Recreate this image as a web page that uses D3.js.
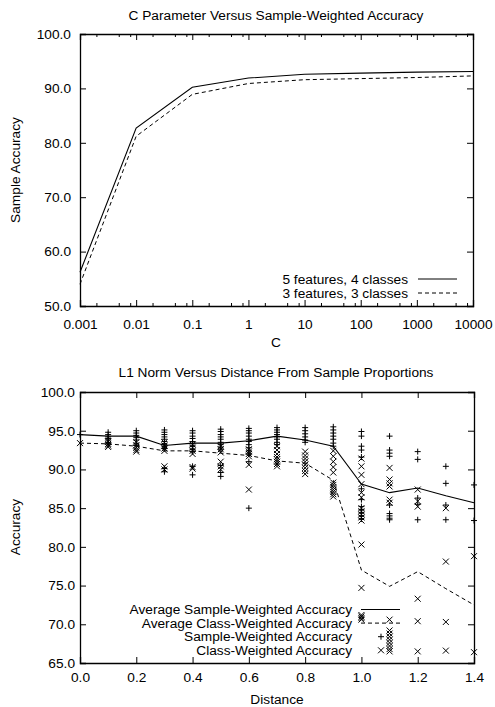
<!DOCTYPE html>
<html>
<head>
<meta charset="utf-8">
<script src="https://cdn.jsdelivr.net/npm/d3@7"></script>
<style>
  body { margin: 0; background: #fff; }
  svg { display: block; font-family: "Liberation Sans", Arial, sans-serif; font-size: 13.7px; }
  .axis path, .axis line { stroke: #000; }
  .axis text { fill: #000; font-size: 13.7px; font-family: "Liberation Sans", Arial, sans-serif; }
</style>
</head>
<body>
<svg id="chart" width="495" height="707"></svg>
<script>
// top chart: C parameter vs sample-weighted accuracy
var cValues = [0.001, 0.01, 0.1, 1, 10, 100, 1000, 10000];
var acc5f4c = [56.2, 82.7, 90.2, 91.9, 92.6, 92.8, 93.0, 93.1];
var acc3f3c = [54.0, 81.2, 88.9, 90.9, 91.6, 91.8, 92.0, 92.3];
var cTickLabels = ["0.001", "0.01", "0.1", "1", "10", "100", "1000", "10000"];
var topYTicks = [50, 60, 70, 80, 90, 100];

// bottom chart: L1 norm vs distance
var distances = [0.0, 0.1, 0.2, 0.3, 0.4, 0.5, 0.6, 0.7, 0.8, 0.9, 1.0, 1.1, 1.2, 1.3, 1.4];
var avgSample = [94.5, 94.3, 94.3, 93.1, 93.4, 93.4, 93.7, 94.3, 93.8, 93.0, 88.1, 87.0, 87.6, 86.6, 85.7];
var avgClass = [93.4, 93.3, 93.0, 92.4, 92.4, 92.1, 91.8, 91.1, 90.8, 88.6, 77.0, 74.9, 76.8, 74.6, 72.5];
var sampleAcc = [
  [94.5],
  [94.8, 94.5, 94.2, 94.0, 93.8, 93.5, 93.3],
  [95.0, 94.7, 94.4, 94.1, 93.8, 93.4, 93.1],
  [95.1, 94.8, 94.5, 94.2, 93.9, 93.6, 93.3, 93.0, 92.7, 90.1, 89.7],
  [95.0, 94.7, 94.3, 94.0, 93.6, 93.3, 93.0, 92.6, 92.3, 90.4, 89.3],
  [95.2, 94.9, 94.5, 94.2, 93.9, 93.5, 93.2, 92.9, 92.6, 90.5, 89.6, 89.1],
  [95.3, 95.0, 94.7, 94.3, 93.9, 93.6, 93.2, 92.8, 92.4, 92.0, 91.0, 85.0],
  [95.4, 95.1, 94.8, 94.5, 94.2, 93.9, 93.5, 93.2],
  [95.4, 95.0, 94.6, 94.2, 93.8, 93.5],
  [95.5, 95.1, 94.7, 94.3, 93.9, 93.4, 93.0],
  [94.9, 94.3, 93.0, 92.5, 91.6, 87.5, 86.1, 85.2, 84.8, 84.4, 84.0, 83.6],
  [94.3, 92.5, 92.1, 91.7, 85.4, 84.3, 84.0, 83.7, 83.5],
  [92.3, 91.3, 86.3, 85.5, 83.5],
  [90.4, 88.2, 85.4, 83.5],
  [88.0, 83.4]
];
var classAcc = [
  [93.4],
  [93.6, 93.3, 93.1, 92.9],
  [93.5, 93.1, 92.8, 92.5, 92.3],
  [93.5, 93.1, 92.7, 92.4, 90.4, 90.0],
  [93.2, 92.8, 92.4, 92.0, 90.3, 90.1],
  [93.0, 92.6, 92.2, 91.0, 90.4, 90.0],
  [92.6, 92.3, 92.0, 91.7, 90.6, 87.4],
  [93.0, 92.5, 92.0, 91.6, 91.3, 91.0, 90.7, 90.4],
  [92.3, 91.8, 91.4, 91.0, 90.6, 90.2, 89.8, 89.4],
  [92.4, 91.7, 91.0, 90.3, 89.6, 88.3, 88.0, 87.7, 87.4, 87.1, 86.8, 86.5],
  [91.4, 90.4, 89.3, 88.1, 87.0, 86.4, 85.0, 84.6, 84.2, 83.8, 83.4, 80.3, 74.7, 71.2, 71.0, 70.8, 70.6],
  [90.2, 88.7, 88.2, 87.8, 86.1, 85.7, 70.6, 69.2, 68.8, 68.4, 68.0, 67.6, 67.2, 66.8, 66.5],
  [87.4, 85.9, 85.2, 73.3, 70.4, 66.5],
  [85.0, 78.1, 70.3, 66.6],
  [78.8, 66.4]
];
var botXTicks = [0.0, 0.2, 0.4, 0.6, 0.8, 1.0, 1.2, 1.4];
var botYTicks = [65, 70, 75, 80, 85, 90, 95, 100];

var svg = d3.select("#chart");
svg.append("rect").attr("width", 495).attr("height", 707).attr("fill", "#fff");

var dash = "4,3";
var markSize = 3;

// ---------- top chart ----------
var xTop = d3.scaleLog().domain([0.001, 10000]).range([80, 473]);
var yTop = d3.scaleLinear().domain([50, 100]).range([306, 34]);

var minorC = [];
cValues.slice(0, -1).forEach(function (c) {
    [2, 5, 8].forEach(function (m) { minorC.push(c * m); });
});

var gTop = svg.append("g");

// minor ticks (bottom and top)
gTop.selectAll(".minorB").data(minorC).enter().append("line")
    .attr("x1", function (d) { return xTop(d); }).attr("x2", function (d) { return xTop(d); })
    .attr("y1", yTop(50)).attr("y2", yTop(50) - 3).attr("stroke", "#000");
gTop.selectAll(".minorT").data(minorC).enter().append("line")
    .attr("x1", function (d) { return xTop(d); }).attr("x2", function (d) { return xTop(d); })
    .attr("y1", yTop(100)).attr("y2", yTop(100) + 3).attr("stroke", "#000");

gTop.append("g").attr("class", "axis")
    .attr("transform", "translate(0," + yTop(50) + ")")
    .call(d3.axisBottom(xTop).tickValues(cValues).tickSize(-6).tickPadding(13)
        .tickFormat(function (d, i) { return cTickLabels[i]; }));
gTop.append("g").attr("class", "axis")
    .attr("transform", "translate(0," + yTop(100) + ")")
    .call(d3.axisTop(xTop).tickValues(cValues).tickSize(-6).tickFormat(""));
gTop.append("g").attr("class", "axis")
    .attr("transform", "translate(" + xTop(0.001) + ",0)")
    .call(d3.axisLeft(yTop).tickValues(topYTicks).tickSize(-6).tickPadding(9)
        .tickFormat(d3.format(".1f")));
gTop.append("g").attr("class", "axis")
    .attr("transform", "translate(" + xTop(10000) + ",0)")
    .call(d3.axisRight(yTop).tickValues(topYTicks).tickSize(-6).tickFormat(""));
svg.selectAll(".axis .domain").attr("stroke-width", 1.3);

var lineTop = d3.line()
    .x(function (d) { return xTop(d[0]); })
    .y(function (d) { return yTop(d[1]); });

gTop.append("path").datum(d3.zip(cValues, acc5f4c))
    .attr("d", lineTop).attr("fill", "none").attr("stroke", "#000").attr("stroke-width", 1.1);
gTop.append("path").datum(d3.zip(cValues, acc3f3c))
    .attr("d", lineTop).attr("fill", "none").attr("stroke", "#000").attr("stroke-width", 1)
    .attr("stroke-dasharray", dash);

svg.append("text").attr("x", 276).attr("y", 15).attr("dy", "0.35em")
    .attr("text-anchor", "middle").text("C Parameter Versus Sample-Weighted Accuracy");
svg.append("text").attr("x", 276).attr("y", 342).attr("dy", "0.35em")
    .attr("text-anchor", "middle").text("C");
svg.append("text").attr("transform", "translate(15,170) rotate(-90)").attr("dy", "0.35em")
    .attr("text-anchor", "middle").text("Sample Accuracy");

var topLegend = [
    { label: "5 features, 4 classes", dash: null },
    { label: "3 features, 3 classes", dash: dash }
];
topLegend.forEach(function (d, i) {
    var y = 279 + i * 14;
    svg.append("text").attr("x", 408).attr("y", y).attr("dy", "0.35em")
        .attr("text-anchor", "end").text(d.label);
    svg.append("line").attr("x1", 418).attr("x2", 457).attr("y1", y).attr("y2", y)
        .attr("stroke", "#000").attr("stroke-dasharray", d.dash);
});

// ---------- bottom chart ----------
var xBot = d3.scaleLinear().domain([0, 1.4]).range([80, 474]);
var yBot = d3.scaleLinear().domain([65, 100]).range([663, 392]);

var gBot = svg.append("g");
gBot.append("g").attr("class", "axis")
    .attr("transform", "translate(0," + yBot(65) + ")")
    .call(d3.axisBottom(xBot).tickValues(botXTicks).tickSize(-6).tickPadding(9)
        .tickFormat(d3.format(".1f")));
gBot.append("g").attr("class", "axis")
    .attr("transform", "translate(0," + yBot(100) + ")")
    .call(d3.axisTop(xBot).tickValues(botXTicks).tickSize(-6).tickFormat(""));
gBot.append("g").attr("class", "axis")
    .attr("transform", "translate(" + xBot(0) + ",0)")
    .call(d3.axisLeft(yBot).tickValues(botYTicks).tickSize(-6).tickPadding(5)
        .tickFormat(d3.format(".1f")));
gBot.append("g").attr("class", "axis")
    .attr("transform", "translate(" + xBot(1.4) + ",0)")
    .call(d3.axisRight(yBot).tickValues(botYTicks).tickSize(-6).tickFormat(""));
svg.selectAll(".axis .domain").attr("stroke-width", 1.3);

function plusPath(x, y) {
    return "M" + (x - markSize) + "," + y + "H" + (x + markSize) +
        "M" + x + "," + (y - markSize) + "V" + (y + markSize);
}
function crossPath(x, y) {
    return "M" + (x - markSize) + "," + (y - markSize) + "L" + (x + markSize) + "," + (y + markSize) +
        "M" + (x - markSize) + "," + (y + markSize) + "L" + (x + markSize) + "," + (y - markSize);
}

var samplePts = [], classPts = [];
distances.forEach(function (d, i) {
    sampleAcc[i].forEach(function (v) { samplePts.push([d, v]); });
    classAcc[i].forEach(function (v) { classPts.push([d, v]); });
});

gBot.selectAll(".plus").data(samplePts).enter().append("path")
    .attr("d", function (d) { return plusPath(xBot(d[0]), yBot(d[1])); })
    .attr("stroke", "#000").attr("fill", "none");
gBot.selectAll(".cross").data(classPts).enter().append("path")
    .attr("d", function (d) { return crossPath(xBot(d[0]), yBot(d[1])); })
    .attr("stroke", "#000").attr("fill", "none");

var lineBot = d3.line()
    .x(function (d) { return xBot(d[0]); })
    .y(function (d) { return yBot(d[1]); });
gBot.append("path").datum(d3.zip(distances, avgSample))
    .attr("d", lineBot).attr("fill", "none").attr("stroke", "#000").attr("stroke-width", 1.1);
gBot.append("path").datum(d3.zip(distances, avgClass))
    .attr("d", lineBot).attr("fill", "none").attr("stroke", "#000").attr("stroke-width", 1)
    .attr("stroke-dasharray", dash);

svg.append("text").attr("x", 276).attr("y", 372).attr("dy", "0.35em")
    .attr("text-anchor", "middle").text("L1 Norm Versus Distance From Sample Proportions");
svg.append("text").attr("x", 277).attr("y", 699).attr("dy", "0.35em")
    .attr("text-anchor", "middle").text("Distance");
svg.append("text").attr("transform", "translate(15,527) rotate(-90)").attr("dy", "0.35em")
    .attr("text-anchor", "middle").text("Accuracy");

var botLegend = [
    { label: "Average Sample-Weighted Accuracy", type: "line", dash: null },
    { label: "Average Class-Weighted Accuracy", type: "line", dash: dash },
    { label: "Sample-Weighted Accuracy", type: "plus" },
    { label: "Class-Weighted Accuracy", type: "cross" }
];
botLegend.forEach(function (d, i) {
    var y = 609.5 + i * 13.6;
    svg.append("text").attr("x", 352).attr("y", y).attr("dy", "0.35em")
        .attr("text-anchor", "end").text(d.label);
    if (d.type === "line") {
        svg.append("line").attr("x1", 361).attr("x2", 400).attr("y1", y).attr("y2", y)
            .attr("stroke", "#000").attr("stroke-dasharray", d.dash);
    } else {
        svg.append("path").attr("d", d.type === "plus" ? plusPath(381, y) : crossPath(381, y))
            .attr("stroke", "#000").attr("fill", "none");
    }
});
</script>
</body>
</html>
